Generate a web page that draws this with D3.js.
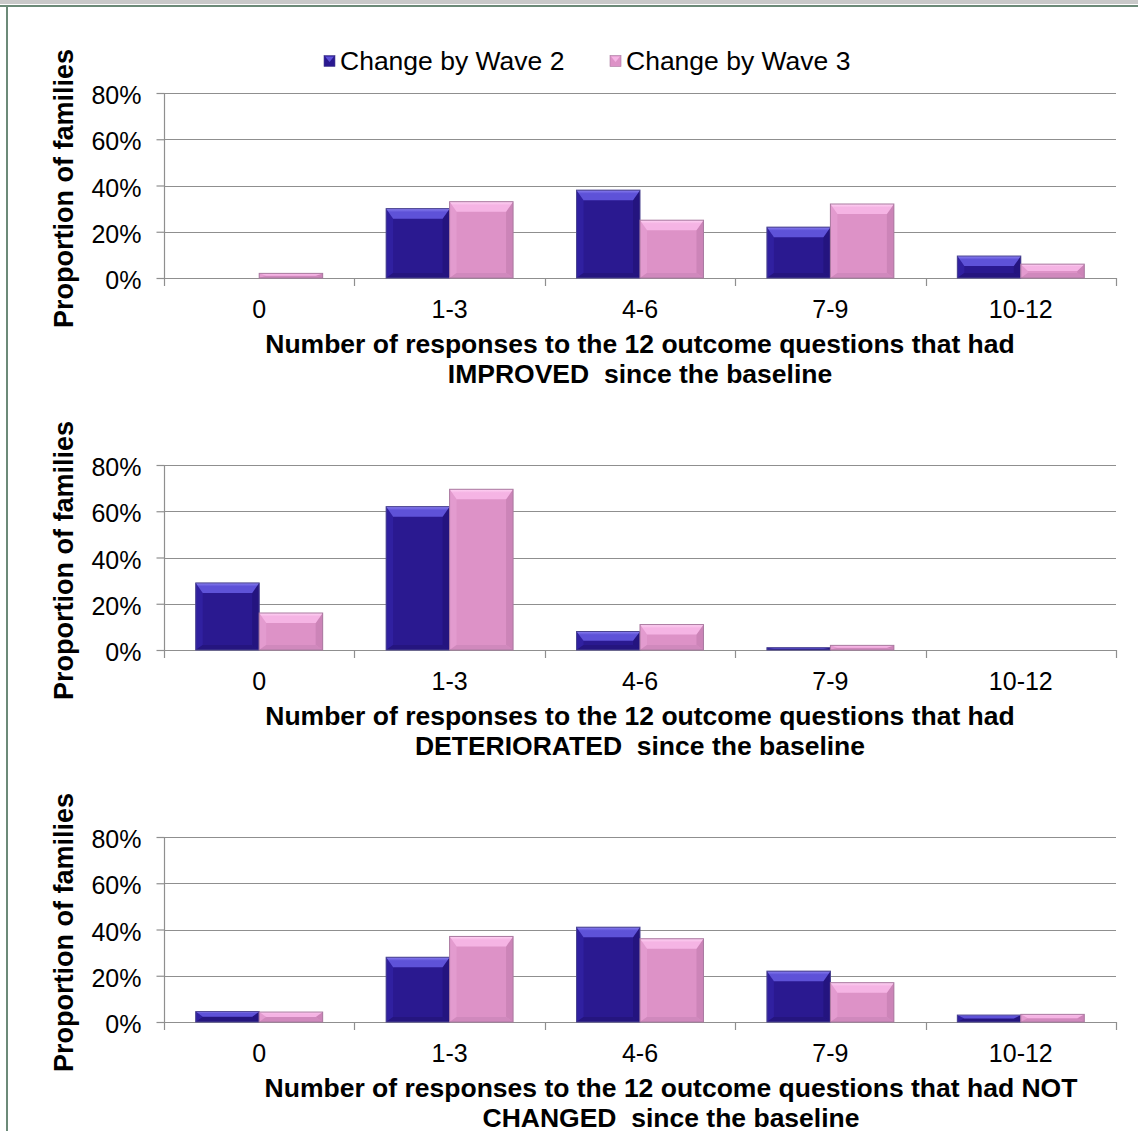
<!DOCTYPE html>
<html>
<head>
<meta charset="utf-8">
<script src="https://cdn.jsdelivr.net/npm/d3@7"></script>
<style>
  html, body { margin: 0; padding: 0; background: #fff; }
  svg { display: block; font-family: "Liberation Sans", Arial, sans-serif; }
</style>
</head>
<body>
<svg id="chart" width="1138" height="1131"></svg>
<script>
// Response-count bands (x categories shared by all three panels)
const categories = ["0", "1-3", "4-6", "7-9", "10-12"];
const seriesNames = ["Change by Wave 2", "Change by Wave 3"];
const yTicks = [0, 20, 40, 60, 80];

// Percent of families in each band, per panel
const improvedWave2 = [0, 30, 38, 22, 9.5];
const improvedWave3 = [2, 33, 25, 32, 6];
const deterioratedWave2 = [29, 62, 8, 1, 0];
const deterioratedWave3 = [16, 69.5, 11, 2, 0];
const notChangedWave2 = [4.5, 28, 41, 22, 3];
const notChangedWave3 = [4.3, 37, 36, 17, 3.3];

const panelTitles = [
  ["Number of responses to the 12 outcome questions that had", "IMPROVED  since the baseline"],
  ["Number of responses to the 12 outcome questions that had", "DETERIORATED  since the baseline"],
  ["Number of responses to the 12 outcome questions that had NOT", "CHANGED  since the baseline"]
];
const panelSeries = [
  [improvedWave2, improvedWave3],
  [deterioratedWave2, deterioratedWave3],
  [notChangedWave2, notChangedWave3]
];

const svg = d3.select("#chart");
const W = 1138, H = 1131;
const FONT = "'Liberation Sans', Arial, sans-serif";

// Frame
svg.append("rect").attr("x", 0).attr("y", 0).attr("width", W).attr("height", 4).attr("fill", "#c9c9c9");
svg.append("rect").attr("x", 0).attr("y", 5).attr("width", W).attr("height", 2).attr("fill", "#6c8a78");
svg.append("rect").attr("x", 6).attr("y", 5).attr("width", 2).attr("height", H - 5).attr("fill", "#6c8a78");

// Bar palettes: base, top bevel, side bevels, bottom bevel, outline
const palettes = [
  { base: "#2a1990", top: "#5e52d8", topEdge: "#8a80f0", left: "#3020a0", right: "#24147f", bottom: "#25157f", stroke: "#4b4490" },
  { base: "#dd92c7", top: "#f5b4e4", topEdge: "#ffd4f4", left: "#e39bcf", right: "#cc84b8", bottom: "#d089bd", stroke: "#a97aa0" }
];

const defs = svg.append("defs");
palettes.forEach((p, i) => {
  const g = defs.append("linearGradient").attr("id", "topGrad" + i)
    .attr("x1", 0).attr("y1", 0).attr("x2", 0).attr("y2", 1);
  g.append("stop").attr("offset", "0%").attr("stop-color", p.topEdge);
  g.append("stop").attr("offset", "35%").attr("stop-color", p.top);
  g.append("stop").attr("offset", "100%").attr("stop-color", p.top);
});

const x0 = d3.scaleBand().domain(categories).range([164, 1116]).paddingInner(1 / 3).paddingOuter(1 / 6);
const x1 = d3.scaleBand().domain([0, 1]).range([0, x0.bandwidth()]).padding(0);

// Legend
const legend = svg.append("g").attr("transform", "translate(0,61)");
const legendX = [324, 610];
seriesNames.forEach((name, i) => {
  const p = palettes[i];
  legend.append("rect").attr("x", legendX[i]).attr("y", -5.5).attr("width", 11).attr("height", 11)
    .attr("fill", p.base).attr("stroke", p.stroke).attr("stroke-width", 0.6);
  legend.append("path")
    .attr("d", `M${legendX[i] + 1},${-4.5} L${legendX[i] + 10},${-4.5} L${legendX[i] + 5.5},${1} Z`)
    .attr("fill", p.top);
  legend.append("text").attr("x", legendX[i] + 16).attr("y", 0).attr("dy", "0.35em")
    .attr("font-size", 26.5).attr("fill", "#000").text(name);
});

const panelOffsets = [0, 372, 744];
// Horizontal centre of each panel's axis title
const titleCentres = [640, 640, 671];

panelOffsets.forEach((off, pi) => {
  const zeroY = 278 + off, topY = 93 + off;
  const y = d3.scaleLinear().domain([0, 80]).range([zeroY, topY]);
  const g = svg.append("g");

  // Gridlines
  g.selectAll("line.grid").data(yTicks).join("line")
    .attr("x1", 164).attr("x2", 1116)
    .attr("y1", d => Math.round(y(d)) + 0.5).attr("y2", d => Math.round(y(d)) + 0.5)
    .attr("stroke", "#8f8f8f").attr("stroke-width", 1.2);

  // Y axis
  const yAxis = d3.axisLeft(y).tickValues(yTicks).tickFormat(d => d + "%").tickSize(8).tickPadding(15);
  const ya = g.append("g").attr("transform", "translate(164.5,0)").call(yAxis);
  ya.select(".domain").attr("stroke", "#8f8f8f").attr("stroke-width", 1.2)
    .attr("d", `M0,${topY}V${zeroY + 8}`);
  ya.selectAll(".tick line").attr("stroke", "#8f8f8f").attr("stroke-width", 1.2);
  ya.selectAll(".tick text").attr("font-size", 25).attr("fill", "#000")
    .attr("font-family", FONT).attr("dy", "0.42em");

  // X axis: category labels centred, ticks on category boundaries
  const xa = g.append("g").attr("transform", `translate(0,${Math.round(zeroY) + 0.5})`)
    .call(d3.axisBottom(x0).tickSize(0).tickPadding(22));
  xa.select(".domain").remove();
  xa.selectAll(".tick text").attr("font-size", 25).attr("fill", "#000").attr("font-family", FONT);
  const bounds = categories.map(c => x0(c) - x0.step() * x0.paddingInner() / 2).concat([1116]);
  g.selectAll("line.xtick").data(bounds.slice(1)).join("line")
    .attr("x1", d => Math.round(d) + 0.5).attr("x2", d => Math.round(d) + 0.5)
    .attr("y1", zeroY).attr("y2", zeroY + 8)
    .attr("stroke", "#8f8f8f").attr("stroke-width", 1.2);

  // Bars with bevelled faces
  panelSeries[pi].forEach((vals, si) => {
    const p = palettes[si];
    vals.forEach((v, ci) => {
      if (v <= 0) return;
      const bx = x0(categories[ci]) + x1(si), bw = x1.bandwidth();
      const by = y(v), bh = zeroY - by;
      const bt = Math.min(10, bh / 2), bs = Math.min(7, bw / 2), bb = Math.min(5, bh / 2);
      const bar = g.append("g");
      bar.append("rect").attr("x", bx).attr("y", by).attr("width", bw).attr("height", bh)
        .attr("fill", p.base);
      bar.append("path").attr("d",
        `M${bx},${by}L${bx + bs},${by + bt}L${bx + bs},${zeroY - bb}L${bx},${zeroY}Z`)
        .attr("fill", p.left);
      bar.append("path").attr("d",
        `M${bx + bw},${by}L${bx + bw - bs},${by + bt}L${bx + bw - bs},${zeroY - bb}L${bx + bw},${zeroY}Z`)
        .attr("fill", p.right);
      bar.append("path").attr("d",
        `M${bx},${zeroY}L${bx + bs},${zeroY - bb}L${bx + bw - bs},${zeroY - bb}L${bx + bw},${zeroY}Z`)
        .attr("fill", p.bottom);
      bar.append("path").attr("d",
        `M${bx},${by}L${bx + bw},${by}L${bx + bw - bs},${by + bt}L${bx + bs},${by + bt}Z`)
        .attr("fill", `url(#topGrad${si})`);
      bar.append("rect").attr("x", bx).attr("y", by).attr("width", bw).attr("height", bh)
        .attr("fill", "none").attr("stroke", p.stroke).attr("stroke-width", 1);
    });
  });

  // Y title
  g.append("text")
    .attr("transform", `translate(73,${(topY + zeroY) / 2 + 3}) rotate(-90)`)
    .attr("text-anchor", "middle").attr("font-size", 27).attr("font-weight", "bold")
    .attr("fill", "#000").text("Proportion of families");

  // X title (two lines)
  panelTitles[pi].forEach((line, li) => {
    g.append("text").attr("x", titleCentres[pi]).attr("y", zeroY + 75 + li * 30)
      .attr("text-anchor", "middle").attr("font-size", 26.5).attr("font-weight", "bold")
      .attr("fill", "#000").style("white-space", "pre").text(line);
  });
});
</script>
</body>
</html>
